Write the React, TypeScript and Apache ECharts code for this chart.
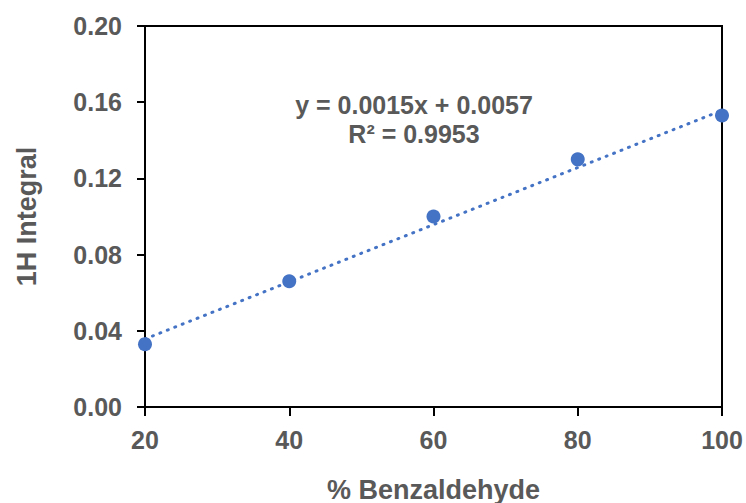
import React, { useEffect, useRef } from "react";
import * as echarts from "echarts";

const xValues = [20, 40, 60, 80, 100];
const yValues = [0.033, 0.066, 0.1, 0.13, 0.153];
const trendX = [20, 100];
const trendY = [0.0357, 0.1557];
const equationLines = ["y = 0.0015x + 0.0057", "R² = 0.9953"];
const xTitle = "% Benzaldehyde";
const yTitle = "1H Integral";

const TEXT = "#595959";
const BLUE = "#4472C4";
const FONT = "Liberation Sans, Arial, sans-serif";

export default function App() {
  const ref = useRef<HTMLDivElement>(null);
  useEffect(() => {
    if (!ref.current) return;
    const chart = echarts.init(ref.current, undefined, { renderer: "svg" });
    chart.setOption({
      animation: false,
      backgroundColor: "#ffffff",
      grid: {
        left: 145,
        right: 24,
        top: 26,
        bottom: 96,
        show: true,
        borderColor: "#000",
        borderWidth: 2,
        backgroundColor: "transparent",
        containLabel: false,
        outerBoundsMode: "none",
      },
      xAxis: {
        type: "value",
        min: 20,
        max: 100,
        interval: 20,
        name: xTitle,
        nameLocation: "middle",
        nameGap: 69,
        nameTextStyle: { color: TEXT, fontSize: 27, fontWeight: "bold", fontFamily: FONT },
        axisLine: { show: true, onZero: false, lineStyle: { color: "#000", width: 2 } },
        axisTick: { show: true, inside: false, length: 9, lineStyle: { color: "#000", width: 2 } },
        axisLabel: { color: TEXT, fontSize: 25, fontWeight: "bold", fontFamily: FONT, margin: 20 },
        splitLine: { show: false },
      },
      yAxis: {
        type: "value",
        min: 0,
        max: 0.2,
        interval: 0.04,
        name: yTitle,
        nameLocation: "middle",
        nameGap: 105,
        nameTextStyle: { color: TEXT, fontSize: 27, fontWeight: "bold", fontFamily: FONT },
        axisLine: { show: true, onZero: false, lineStyle: { color: "#000", width: 2 } },
        axisTick: { show: true, inside: false, length: 8, lineStyle: { color: "#000", width: 2 } },
        axisLabel: {
          color: TEXT,
          fontSize: 25,
          fontWeight: "bold",
          fontFamily: FONT,
          margin: 23,
          formatter: (v: number) => v.toFixed(2),
        },
        splitLine: { show: false },
      },
      series: [
        {
          type: "line",
          data: trendX.map((x, i) => [x, trendY[i]]),
          showSymbol: false,
          symbol: "none",
          lineStyle: { color: BLUE, width: 3, type: [1, 7], cap: "round" },
          z: 2,
        },
        {
          type: "scatter",
          data: xValues.map((x, i) => [x, yValues[i]]),
          symbol: "circle",
          symbolSize: 14,
          itemStyle: { color: BLUE, opacity: 1 },
          z: 3,
        },
      ],
      graphic: [
        {
          type: "text",
          x: 414,
          y: 119,
          style: {
            text: equationLines.join("\n"),
            fill: TEXT,
            font: `bold 25px ${FONT}`,
            align: "center",
            verticalAlign: "middle",
            lineHeight: 29,
          },
        },
      ],
    });
    return () => chart.dispose();
  }, []);
  return <div ref={ref} style={{ width: 746, height: 503, position: "absolute", left: 0, top: 0 }} />;
}
